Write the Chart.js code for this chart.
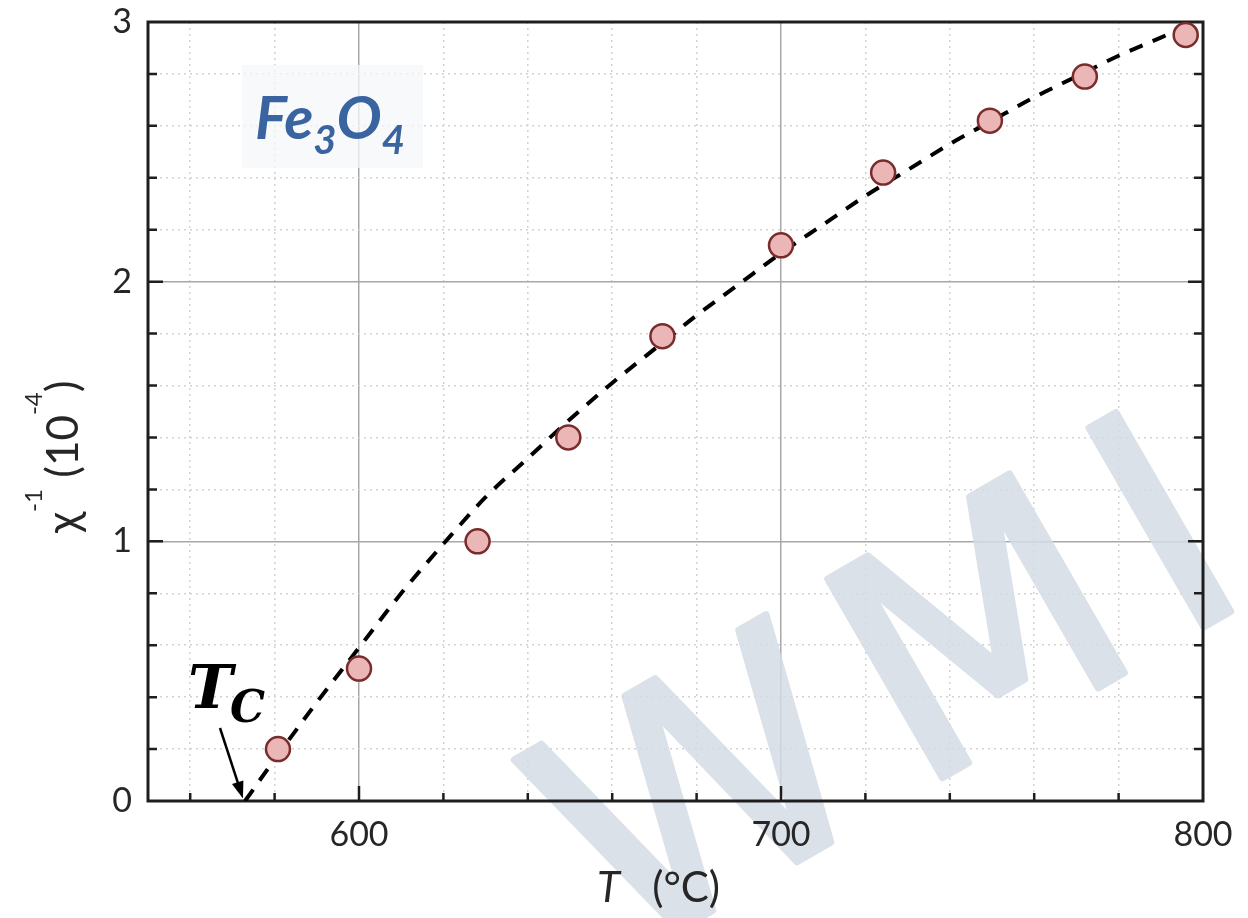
<!DOCTYPE html>
<html>
<head>
<meta charset="utf-8">
<script src="https://cdn.jsdelivr.net/npm/chart.js@4.4.0/dist/chart.umd.min.js"></script>
<style>
  html, body { margin: 0; padding: 0; background: #fff; }
  canvas { display: block; }
</style>
</head>
<body>
<canvas id="chart" width="1248" height="918"></canvas>
<script>
// measured points, T in °C, 1/chi in 10^-4
const tempC = [580.8, 600, 628.1, 649.6, 671.9, 700, 724.2, 749.5, 772, 795.9];
const invChi = [0.20, 0.51, 1.00, 1.40, 1.79, 2.14, 2.42, 2.62, 2.79, 2.95];

// dashed fit curve
const fitT = [573, 580, 590, 600, 610, 620, 630, 640, 650, 660, 670, 680, 690, 700, 710, 720, 730, 740, 750, 760, 770, 780, 790, 797];
const fitY = [0.00, 0.16, 0.38, 0.59, 0.80, 0.99, 1.17, 1.32, 1.47, 1.61, 1.74, 1.87, 1.99, 2.11, 2.22, 2.33, 2.43, 2.53, 2.62, 2.71, 2.79, 2.87, 2.94, 2.99];

// axes
const xTicks = [560, 580, 600, 620, 640, 660, 680, 700, 720, 740, 760, 780, 800];
const xTickLabels = ["600", "700", "800"];
const yTicks = [0, 0.2, 0.4, 0.6, 0.8, 1, 1.2, 1.4, 1.6, 1.8, 2, 2.2, 2.4, 2.6, 2.8, 3];
const yTickLabels = ["0", "1", "2", "3"];

const TEXT = "#262626";
const SANS = '"Lato", "DejaVu Sans", sans-serif';

const isMajorX = (v) => v % 100 === 0;
const isMajorY = (v) => Math.abs(v - Math.round(v)) < 1e-6;
const tickText = (v, labels) => {
  const s = String(+Number(v).toFixed(2));
  return labels.includes(s) ? s : "";
};

// draw a row of text pieces: [text, font, dy]
function drawRuns(ctx, x, y, runs) {
  runs.forEach(([t, f, dy]) => {
    ctx.font = f;
    ctx.fillText(t, x, y + dy);
    x += ctx.measureText(t).width;
  });
}

const decor = {
  id: "decor",
  beforeDraw(chart) {
    const ctx = chart.ctx;
    ctx.save();
    ctx.fillStyle = "#fff";
    ctx.fillRect(0, 0, chart.width, chart.height);
    ctx.restore();
  },
  beforeDatasetsDraw(chart) {
    const ctx = chart.ctx;
    const { left, right, top, bottom } = chart.chartArea;
    const xs = chart.scales.x, ys = chart.scales.y;

    // watermark, drawn opaque offscreen then blended so the grid shows a little
    const off = document.createElement("canvas");
    off.width = chart.width;
    off.height = chart.height;
    const o = off.getContext("2d");
    o.translate(620, 964);
    o.rotate(-30 * Math.PI / 180);
    o.font = '315px "DejaVu Sans"';
    o.letterSpacing = "30px";
    o.fillStyle = "#d5dce5";
    o.strokeStyle = "#d5dce5";
    o.lineWidth = 7;
    o.lineJoin = "round";
    o.fillText("WMI", 0, 0);
    o.strokeText("WMI", 0, 0);
    ctx.save();
    ctx.globalAlpha = 0.85;
    ctx.drawImage(off, 0, 0);
    ctx.restore();

    // Fe3O4 label box
    ctx.save();
    ctx.fillStyle = "rgba(246,247,249,0.75)";
    ctx.fillRect(242, 65, 181, 103);
    ctx.fillStyle = "#3a64a0";
    ctx.textBaseline = "alphabetic";
    const big = "italic bold 60px " + SANS;
    const sub = "italic bold 40px " + SANS;
    drawRuns(ctx, 255, 139, [["Fe", big, 0], ["3", sub, 15], ["O", big, 0], ["4", sub, 15]]);
    ctx.restore();

    // frame
    ctx.save();
    ctx.strokeStyle = "#1e1e1e";
    ctx.lineWidth = 3;
    ctx.strokeRect(left, top, right - left, bottom - top);

    // inward ticks
    ctx.lineWidth = 2.5;
    ctx.beginPath();
    xs.ticks.forEach((t) => {
      if (t.value >= 800) return;
      const px = xs.getPixelForValue(t.value);
      const len = isMajorX(t.value) ? 15 : 8;
      ctx.moveTo(px, bottom);
      ctx.lineTo(px, bottom - len);
    });
    ys.ticks.forEach((t) => {
      if (t.value <= 0 || t.value >= 3) return;
      const py = ys.getPixelForValue(t.value);
      const len = isMajorY(t.value) ? 15 : 9;
      ctx.moveTo(left, py);
      ctx.lineTo(left + len, py);
      ctx.moveTo(right, py);
      ctx.lineTo(right - len, py);
    });
    ctx.stroke();
    ctx.restore();
  },
  afterDraw(chart) {
    const ctx = chart.ctx;
    const xs = chart.scales.x, ys = chart.scales.y;
    ctx.save();
    ctx.fillStyle = TEXT;
    ctx.textBaseline = "alphabetic";

    // x title
    drawRuns(ctx, 597, 902, [["T", "italic 42px " + SANS, 0], ["   (°C)", "42px " + SANS, 0]]);

    // y title
    ctx.save();
    ctx.translate(78, 533);
    ctx.rotate(-Math.PI / 2);
    drawRuns(ctx, 0, 0, [
      ["χ", "44px " + SANS, 0],
      ["-1", "24px " + SANS, -36],
      [" (10", "44px " + SANS, 0],
      ["-4", "24px " + SANS, -36],
      [")", "44px " + SANS, 0]
    ]);
    ctx.restore();

    // Tc marker
    ctx.fillStyle = "#000";
    drawRuns(ctx, 188, 708, [["T", 'italic bold 60px "DejaVu Serif"', 0]]);
    drawRuns(ctx, 230, 722, [["C", 'italic bold 44px "DejaVu Serif"', 0]]);
    const tipX = xs.getPixelForValue(572.5);
    const tipY = ys.getPixelForValue(0.01);
    const sx = 220, sy = 728;
    const ang = Math.atan2(tipY - sy, tipX - sx);
    ctx.strokeStyle = "#000";
    ctx.lineWidth = 2.5;
    ctx.beginPath();
    ctx.moveTo(sx, sy);
    ctx.lineTo(tipX - 10 * Math.cos(ang), tipY - 10 * Math.sin(ang));
    ctx.stroke();
    ctx.beginPath();
    ctx.moveTo(tipX, tipY);
    ctx.lineTo(tipX - 17 * Math.cos(ang) + 6 * Math.sin(ang), tipY - 17 * Math.sin(ang) - 6 * Math.cos(ang));
    ctx.lineTo(tipX - 17 * Math.cos(ang) - 6 * Math.sin(ang), tipY - 17 * Math.sin(ang) + 6 * Math.cos(ang));
    ctx.closePath();
    ctx.fill();
    ctx.restore();
  }
};

const chart = new Chart(document.getElementById("chart"), {
  type: "scatter",
  data: {
    datasets: [
      {
        label: "fit",
        data: fitT.map((t, i) => ({ x: t, y: fitY[i] })),
        showLine: true,
        borderColor: "#000",
        borderWidth: 4,
        borderDash: [14, 11],
        cubicInterpolationMode: "monotone",
        pointRadius: 0,
        order: 2
      },
      {
        label: "data",
        data: tempC.map((t, i) => ({ x: t, y: invChi[i] })),
        pointRadius: 12,
        pointBackgroundColor: "#ebb6b6",
        pointBorderColor: "#7a2c2c",
        pointBorderWidth: 2.5,
        order: 1
      }
    ]
  },
  options: {
    responsive: false,
    animation: false,
    devicePixelRatio: 1,
    layout: { padding: { left: 0, top: 22, right: 45, bottom: 0 } },
    plugins: { legend: { display: false }, tooltip: { enabled: false } },
    scales: {
      x: {
        type: "linear",
        min: 550,
        max: 800,
        afterBuildTicks: (s) => { s.ticks = xTicks.map((v) => ({ value: v })); },
        afterFit: (s) => { s.height = 117; s.paddingLeft = 0; s.paddingRight = 0; },
        grid: {
          drawTicks: false,
          lineWidth: 1.5,
          color: (c) => (c.tick && isMajorX(c.tick.value) ? "#a8a8a8" : "#d2d2d2")
        },
        border: {
          display: false,
          dash: (c) => (c.tick && isMajorX(c.tick.value) ? [] : [2, 4])
        },
        ticks: {
          z: 1,
          autoSkip: false,
          maxRotation: 0,
          padding: 14,
          color: TEXT,
          font: { family: SANS, size: 34 },
          callback: (v) => tickText(v, xTickLabels)
        }
      },
      y: {
        type: "linear",
        min: 0,
        max: 3,
        afterBuildTicks: (s) => { s.ticks = yTicks.map((v) => ({ value: v })); },
        afterFit: (s) => { s.width = 148; s.paddingTop = 0; s.paddingBottom = 0; },
        grid: {
          drawTicks: false,
          lineWidth: 1.5,
          color: (c) => (c.tick && isMajorY(c.tick.value) ? "#a8a8a8" : "#d2d2d2")
        },
        border: {
          display: false,
          dash: (c) => (c.tick && isMajorY(c.tick.value) ? [] : [2, 4])
        },
        ticks: {
          z: 1,
          autoSkip: false,
          padding: 16,
          color: TEXT,
          font: { family: SANS, size: 34 },
          callback: (v) => tickText(v, yTickLabels)
        }
      }
    }
  },
  plugins: [decor]
});
</script>
</body>
</html>
